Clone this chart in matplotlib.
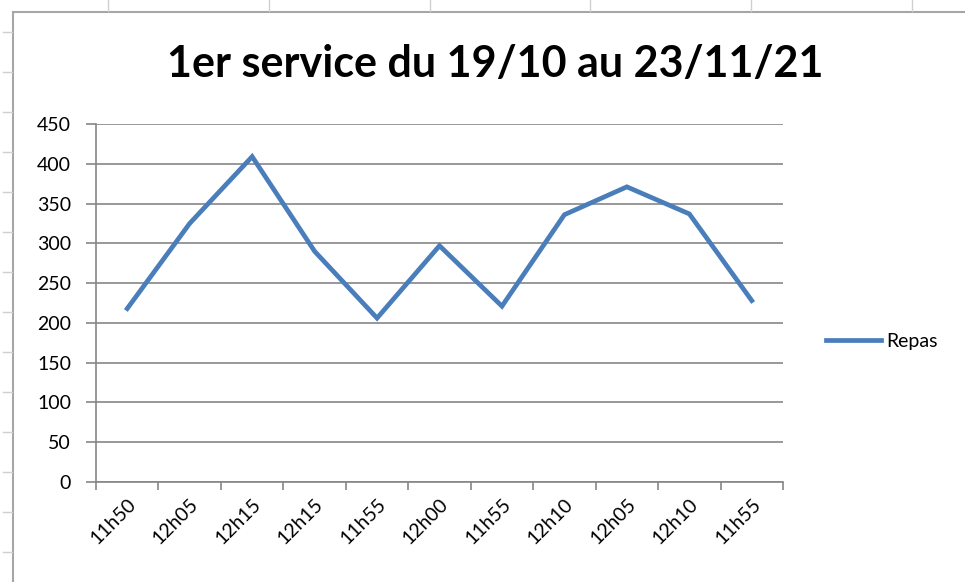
import matplotlib.pyplot as plt
from matplotlib.lines import Line2D
from matplotlib.patches import Rectangle

# heures de service (1er service) et nombre de repas
heures = ['11h50', '12h05', '12h15', '12h15', '11h55', '12h00',
          '11h55', '12h10', '12h05', '12h10', '11h55']
repas = [218, 325, 409, 290, 206, 297, 221, 336, 371, 337, 228]

plt.rcParams['font.family'] = ['Lato', 'DejaVu Sans']

W, H = 965, 582
fig = plt.figure(figsize=(W / 100, H / 100), dpi=100)

# fond façon feuille Excel : bords des cellules et cadre du graphique
for px in [108, 269, 430, 590, 751, 912]:
    fig.add_artist(Line2D([px / W, px / W], [1 - 11 / H, 1.0], color='#d0d0d0', lw=1))
for py in range(32, H, 40):
    fig.add_artist(Line2D([3 / W, 12 / W], [1 - py / H, 1 - py / H], color='#d0d0d0', lw=1))
fig.add_artist(Rectangle((13 / W, -0.01), 1.0, 1 - 12 / H + 0.01, fill=False,
                         edgecolor='#a6a6a6', lw=1.5))

ax = fig.add_axes([96 / W, 1 - 482 / H, (783 - 96) / W, (482 - 124) / H])
x = list(range(len(heures)))
ax.plot(x, repas, color='#4a7ebb', lw=3.4, solid_joinstyle='miter', label='Repas')

ax.set_ylim(0, 450)
ax.set_yticks(range(0, 451, 50))
ax.set_xlim(-0.5, len(heures) - 0.5)
ax.set_xticks([i - 0.5 for i in range(len(heures) + 1)])
ax.set_xticklabels([])
ax.set_xticks(x, minor=True)
ax.set_xticklabels(heures, minor=True, rotation=45, ha='right', va='top',
                   rotation_mode='anchor', fontsize=14)
ax.tick_params(axis='x', which='minor', length=0, pad=10)
ax.tick_params(axis='x', which='major', length=6, width=1.2, color='#868686')
ax.tick_params(axis='y', length=7, width=1.2, color='#868686', labelsize=14, pad=11)

ax.grid(axis='y', color='#868686', lw=1.2)
ax.set_axisbelow(True)
for side in ['top', 'right']:
    ax.spines[side].set_visible(False)
for side in ['left', 'bottom']:
    ax.spines[side].set_color('#868686')
    ax.spines[side].set_linewidth(1.2)

fig.text(495 / W, 1 - 64 / H, '1er service du 19/10 au 23/11/21', ha='center', va='center',
         fontsize=31, fontweight='bold')

fig.legend(loc='center left', bbox_to_anchor=(0.838, 1 - 341 / H), frameon=False,
           fontsize=14, handlelength=2.8, handletextpad=0.3)

fig.savefig('out.png', dpi=100)
